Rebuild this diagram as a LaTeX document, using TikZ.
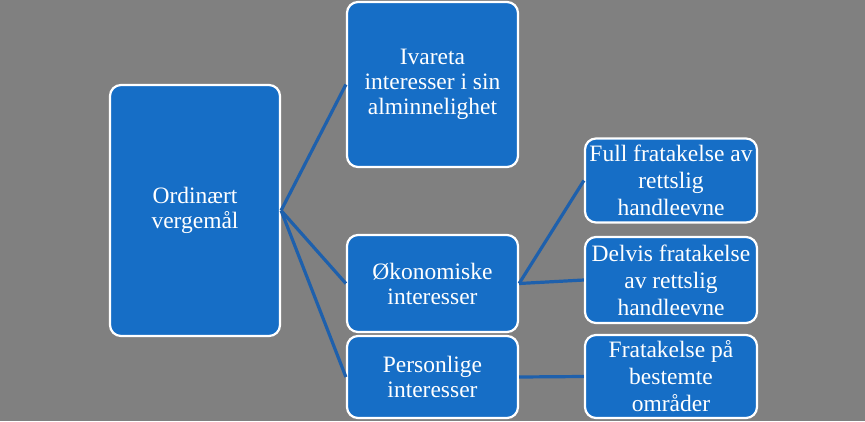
\documentclass[tikz,border=0pt]{standalone}
\usepackage{fontspec}
\setmainfont{Liberation Serif}
\definecolor{bg}{RGB}{128,128,128}
\definecolor{boxblue}{RGB}{22,110,198}
\definecolor{lineblue}{RGB}{30,96,172}
\begin{document}
\begin{tikzpicture}[x=1pt,y=-1pt,
  box/.style={draw=white,line width=2.2pt,fill=boxblue,rounded corners=11pt,
    text=white,align=center,font=\fontsize{23.5}{25}\selectfont,inner sep=0pt},
  small/.style={font=\fontsize{23.5}{27}\selectfont},
  conn/.style={draw=lineblue,line width=3.2pt}]
\fill[bg] (0,0) rectangle (865,421);
\useasboundingbox (0,0) rectangle (865,421);
\node[box,minimum width=170,minimum height=251] (ord) at (195,210.5) {Ordinært\\vergemål};
\node[box,minimum width=171,minimum height=165] (iva) at (432.5,84.5) {Ivareta\\interesser i sin\\alminnelighet};
\node[box,minimum width=171,minimum height=97] (oko) at (432.5,283.5) {Økonomiske\\interesser};
\node[box,minimum width=171,minimum height=82] (per) at (432.5,377) {Personlige\\interesser};
\node[box,small,minimum width=172,minimum height=84] (ful) at (671,180.5) {Full fratakelse av\\rettslig\\handleevne};
\node[box,small,minimum width=172,minimum height=86] (del) at (671,280) {Delvis fratakelse\\av rettslig\\handleevne};
\node[box,small,minimum width=172,minimum height=83] (fra) at (671,376.5) {Fratakelse på\\bestemte\\områder};
\draw[conn] (ord.east) -- (iva.west);
\draw[conn] (ord.east) -- (oko.west);
\draw[conn] (ord.east) -- (per.west);
\draw[conn] (oko.east) -- (ful.west);
\draw[conn] (oko.east) -- (del.west);
\draw[conn] (per.east) -- (fra.west);
\end{tikzpicture}
\end{document}
